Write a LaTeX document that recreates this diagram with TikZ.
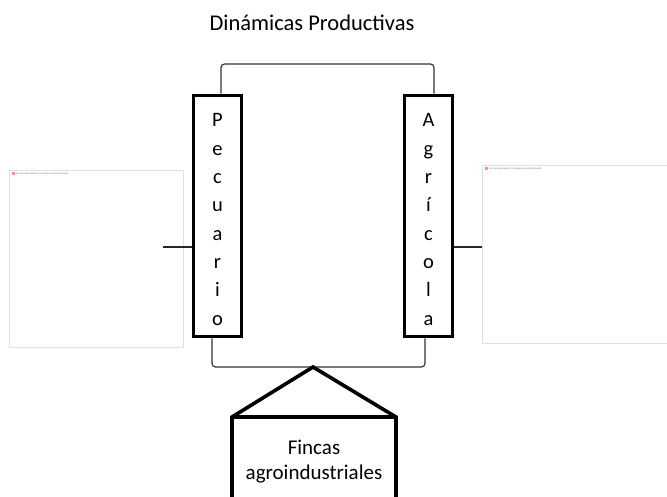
\documentclass[tikz,border=0pt]{standalone}
\usepackage{fontspec}
\setmainfont{Carlito}
\usetikzlibrary{calc}

\tikzset{
  columna/.style={draw,line width=3.6pt,minimum width=48pt,minimum height=241pt,inner sep=0pt},
  letras/.style={align=center,inner sep=0pt,font=\fontsize{20.5}{28.3}\selectfont},
  enlace/.style={draw=black!80,line width=1.2pt,rounded corners=3.5pt},
  imagen/.style={draw=black!12,line width=0.8pt,fill=white,anchor=north west,
    inner sep=0pt},
  aviso/.style={font=\fontsize{2.6}{3}\selectfont,text=black!55,anchor=west,inner sep=0pt}
}

\begin{document}
\begin{tikzpicture}[x=1pt,y=-1pt]
        \useasboundingbox (0,0) rectangle (667,497);

        % imagenes que no se muestran
        \node[imagen,minimum width=174pt,minimum height=177pt] (imgizq) at (9,170) {};
        \fill[red!45] (11.5,172.5) rectangle ++(3,3);
        \node[aviso] (avisoizq) at (16,174) {No se puede mostrar la imagen en este momento.};
        \node[imagen,minimum width=190pt,minimum height=178pt] (imgder) at (482,165) {};
        \fill[red!45] (484.5,167.5) rectangle ++(3,3);
        \node[aviso] (avisoder) at (489,169) {No se puede mostrar la imagen en este momento.};

        \node (titulo) at (312,23) {\fontsize{22.5}{27}\selectfont Dinámicas Productivas};

	    \node[columna] (pecuario) at (217.5,216) {};
	    \node[letras] (pecuariotxt) at ([yshift=-3.5pt]pecuario.center) {P\\e\\c\\u\\a\\r\\i\\o};
	    \node[columna] (agricola) at (428.5,216) {};
	    \node[letras] (agricolatxt) at ([yshift=-3.5pt]agricola.center) {A\\g\\r\\í\\c\\o\\l\\a};

		\coordinate (apice) at (313,367);
		\coordinate (izq) at (163,247);

		\draw[enlace] ([xshift=3.5pt]pecuario.north) |- (313,64) -| ([xshift=5.5pt]agricola.north);
		\draw[enlace] ([xshift=-5.5pt]pecuario.south) |- (apice) -| ([xshift=-3.5pt]agricola.south);
		\draw[line width=1.2pt,black!85] (izq) -- (izq -| pecuario.west);
		\draw[line width=1.2pt,black!85] (izq -| agricola.east) -- (izq -| imgder.west);

		% casa
		\draw[line width=3.6pt,line join=miter] (232,500) -- (232,417) -- (apice) -- (396,417) -- (396,500);
		\draw[line width=3.6pt] (232,417) -- (396,417);
		\node[align=center,font=\fontsize{21}{25}\selectfont] (fincas) at (314,462) {Fincas\\agroindustriales};

    \end{tikzpicture}
\end{document}
